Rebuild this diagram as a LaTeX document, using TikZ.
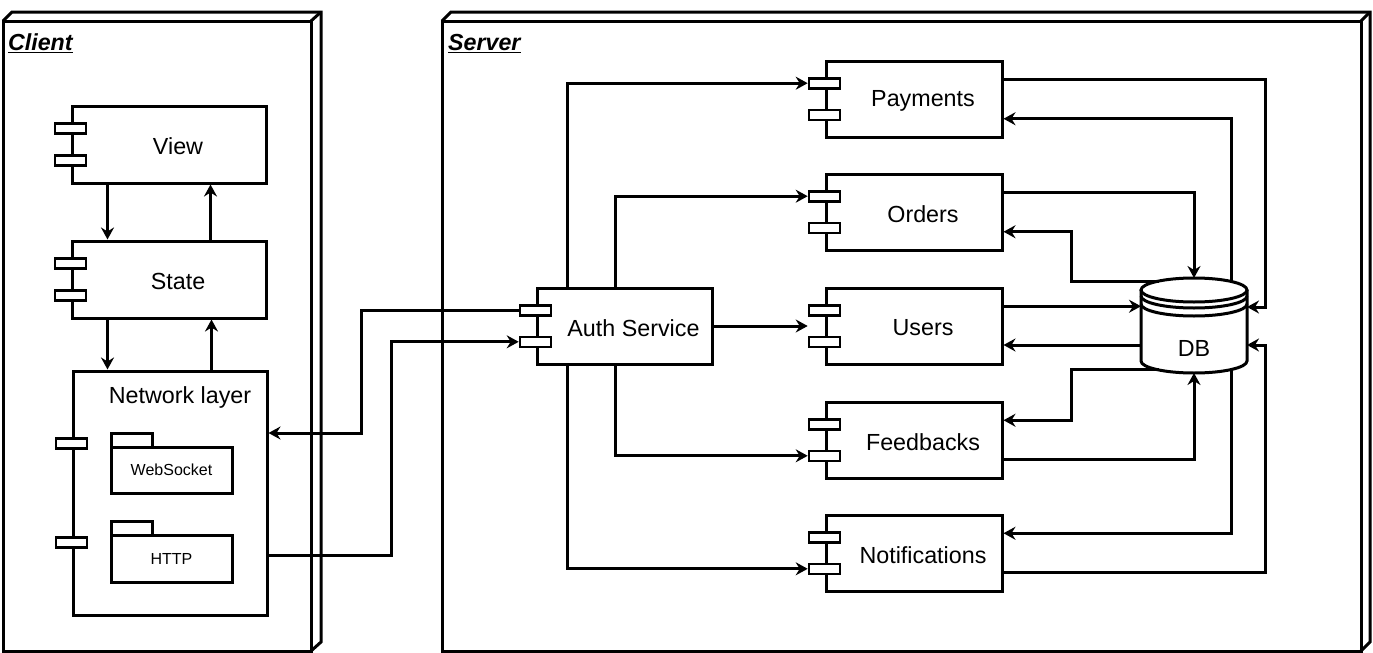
\documentclass[tikz,border=0pt]{standalone}
\usepackage{fontspec}
\setmainfont{Liberation Sans}
\usetikzlibrary{arrows.meta,calc}
\tikzset{
  lw/.style={line width=3pt},
  compbox/.style={draw, lw, fill=white, inner sep=0pt, rectangle},
  port/.style={draw, line width=2.6pt, fill=white, minimum width=31pt, minimum height=10pt, inner sep=0pt},
  compl/.style={font=\fontsize{23.3pt}{28pt}\selectfont, xshift=9pt, yshift=-2pt, inner sep=0pt},
  conn/.style={lw, line join=miter, -{Stealth[length=12pt,width=13pt,inset=4pt]}},
  frame/.style={lw, line join=miter},
  flabel/.style={font=\fontsize{23.2pt}{28pt}\selectfont\bfseries\itshape, anchor=base west, inner sep=0pt},
  pkg/.style={draw, lw, inner sep=0pt},
  pkgl/.style={font=\fontsize{16pt}{19pt}\selectfont, inner sep=0pt},
  txt/.style={font=\fontsize{23.3pt}{28pt}\selectfont, inner sep=0pt},
}
\newcommand\compnode[6]{%
  \pgfmathsetmacro\cmpW{#4-#2}\pgfmathsetmacro\cmpH{#5-#3}%
  \pgfmathsetmacro\cmpX{(#2+#4)/2}\pgfmathsetmacro\cmpY{(#3+#5)/2}%
  \node[compbox, minimum width=\cmpW pt, minimum height=\cmpH pt, label={[compl]center:#6}] (#1) at (\cmpX,\cmpY) {};
  \node[port] (#1-p1) at ($(#1.north west)!0.3!(#1.south west)$) {};
  \node[port] (#1-p2) at ($(#1.north west)!0.7!(#1.south west)$) {};
  \coordinate (#1-a) at ($(#1.north east)!0.25!(#1.south east)$);
  \coordinate (#1-b) at ($(#1.north east)!0.75!(#1.south east)$);
}
\begin{document}
\begin{tikzpicture}[x=1pt,y=-1pt]
\useasboundingbox (0,0) rectangle (1373,653);
\fill[white] (0,0) rectangle (1373,653);

% ---------- frames ----------
\draw[frame] (3,21) rectangle (311,651);
\draw[frame] (3,21) -- (12,12) -- (321,12) -- (321,642) -- (311,651);
\draw[frame] (311,21) -- (321,12);
\node[flabel] (clientlbl) at (8,50) {Client};
\draw[line width=1.8pt] ([yshift=-2.5pt]clientlbl.base west) -- ([yshift=-2.5pt]clientlbl.base east);

\draw[frame] (442,21) rectangle (1361,651);
\draw[frame] (442,21) -- (451,12) -- (1370,12) -- (1370,642) -- (1361,651);
\draw[frame] (1361,21) -- (1370,12);
\node[flabel] (serverlbl) at (448,50) {Server};
\draw[line width=1.8pt] ([yshift=-2.5pt]serverlbl.base west) -- ([yshift=-2.5pt]serverlbl.base east);

% ---------- client ----------
\compnode{view}{72}{106}{266}{183}{View}
\compnode{state}{72}{241}{266}{318}{State}

\node[compbox, minimum width=194pt, minimum height=244pt] (net) at (170,493) {};
\node[txt] (netl) at (180,397) {Network layer};
\node[port] (net-p1) at ($(net.north west)!0.3!(net.south west)$) {};
\node[port] (net-p2) at ($(net.north west)!0.7!(net.south west)$) {};

\node[pkg, minimum width=41pt, minimum height=14pt] (wstab) at (131.5,440) {};
\node[pkg, minimum width=121pt, minimum height=46pt] (ws) at (171.5,470) {};
\node[pkgl] at (ws.center) {WebSocket};
\node[pkg, minimum width=41pt, minimum height=14pt] (httptab) at (131.5,528) {};
\node[pkg, minimum width=121pt, minimum height=47pt] (http) at (171.5,558.5) {};
\node[pkgl] at (http.center) {HTTP};

\coordinate (v1) at ([xshift=37pt]view.south west);
\coordinate (v2) at ([xshift=140pt]view.south west);
\coordinate (s1) at ([xshift=37pt]state.south west);
\coordinate (s2) at ([xshift=141pt]state.south west);
\draw[conn] (v1) -- (v1 |- state.north);
\draw[conn] (v2 |- state.north) -- (v2);
\draw[conn] (s1) -- (s1 |- net.north);
\draw[conn] (s2 |- net.north) -- (s2);

% ---------- server ----------
\compnode{auth}{537}{288}{712}{364}{Auth Service}
\compnode{pay}{826}{61}{1002}{137}{Payments}
\compnode{ord}{826}{174}{1002}{250}{Orders}
\compnode{usr}{826}{288}{1002}{364}{Users}
\compnode{fb}{826}{402}{1002}{478}{Feedbacks}
\compnode{not}{826}{515}{1002}{591}{Notifications}

% DB datastore
\fill[white] (1141,290) -- (1141,361) .. controls (1141,367.6) and (1164.7,373) .. (1194,373) .. controls (1223.3,373) and (1247,367.6) .. (1247,361) -- (1247,290) .. controls (1247,283.4) and (1223.3,278) .. (1194,278) .. controls (1164.7,278) and (1141,283.4) .. (1141,290) -- cycle;
\draw[lw] (1194,290) ellipse [x radius=53, y radius=12];
\draw[lw] (1141,290) -- (1141,361) .. controls (1141,367.6) and (1164.7,373) .. (1194,373) .. controls (1223.3,373) and (1247,367.6) .. (1247,361) -- (1247,290);
\draw[lw] (1141,296) .. controls (1141,302.6) and (1164.7,308) .. (1194,308) .. controls (1223.3,308) and (1247,302.6) .. (1247,296);
\draw[lw] (1141,304) .. controls (1141,310.6) and (1164.7,316) .. (1194,316) .. controls (1223.3,316) and (1247,310.6) .. (1247,304);
\node[txt] (db) at (1194,348) {DB};

\coordinate (dbTop) at (1194,278);
\coordinate (dbBot) at (1194,373);
\coordinate (dbTR) at (1231,281.5);
\coordinate (dbTL) at (1159,281.5);
\coordinate (dbBR) at (1231,369.5);
\coordinate (dbBL) at (1159,369.5);
\coordinate (dbR1) at (1247,307);
\coordinate (dbR2) at (1247,345);
\coordinate (dbL1) at (1141,307);
\coordinate (dbL2) at (1141,345);
\coordinate (busR) at (1265,0);
\coordinate (busL) at (1071,0);

% auth to services
\coordinate (au1) at ([xshift=32pt]auth.north west);
\coordinate (au2) at ([xshift=80pt]auth.north west);
\coordinate (ad1) at ([xshift=32pt]auth.south west);
\coordinate (ad2) at ([xshift=80pt]auth.south west);
\draw[conn] (au1) |- (pay-p1.west);
\draw[conn] (au2) |- (ord-p1.west);
\draw[conn] (auth.east) -- (auth.east -| usr-p1.west);
\draw[conn] (ad2) |- (fb-p2.west);
\draw[conn] (ad1) |- (not-p2.west);

% client <-> server
\coordinate (j1) at (361,433);
\coordinate (j2) at (391,555);
\draw[conn] (auth-p1.west) -| (j1) -- (j1 -| net.east);
\draw[conn] (j2 -| net.east) -- (j2) |- (auth-p2.west);

% services <-> DB
\draw[conn] (pay-a) -| (busR |- dbR1) -- (dbR1);
\draw[conn] (dbTR) |- (pay-b);
\draw[conn] (ord-a) -| (dbTop);
\draw[conn] (dbTL) -- (busL |- dbTL) |- (ord-b);
\draw[conn] (usr-a) -- (usr-a -| dbL1);
\draw[conn] (dbL2) -- (dbL2 -| usr.east);
\draw[conn] (dbBL) -- (busL |- dbBL) |- (fb-a);
\draw[conn] (fb-b) -| (dbBot);
\draw[conn] (dbBR) |- (not-a);
\draw[conn] (not-b) -| (busR |- dbR2) -- (dbR2);
\end{tikzpicture}
\end{document}
